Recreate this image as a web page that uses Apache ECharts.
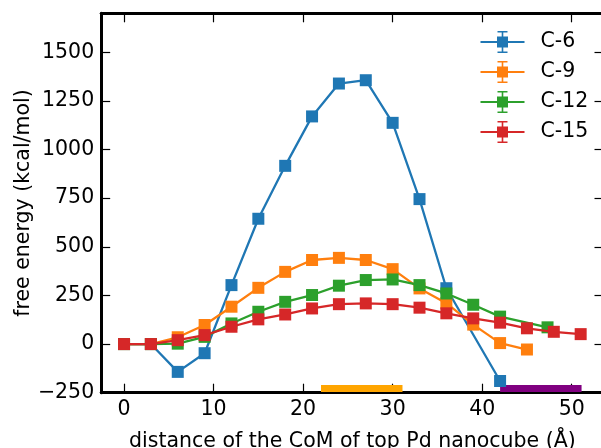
<!DOCTYPE html>
<html>
<head>
<meta charset="utf-8">
<script src="https://cdn.jsdelivr.net/npm/echarts@6/dist/echarts.min.js"></script>
<style>
html,body{margin:0;padding:0;background:#fff;}
#chart{width:601px;height:448px;}
</style>
</head>
<body>
<div id="chart"></div>
<script>
var seriesNames = ['C-6', 'C-9', 'C-12', 'C-15'];
var xC6  = [0, 3, 6, 9, 12, 15, 18, 21, 24, 27, 30, 33, 36, 42];
var yC6  = [0, 0, -143, -47, 303, 644, 916, 1170, 1339, 1356, 1137, 745, 287, -190];
var xC9  = [0, 3, 6, 9, 12, 15, 18, 21, 24, 27, 30, 33, 36, 39, 42, 45];
var yC9  = [0, 0, 35, 98, 192, 289, 371, 432, 443, 432, 385, 286, 210, 100, 5, -28];
var xC12 = [0, 3, 6, 9, 12, 15, 18, 21, 24, 27, 30, 33, 36, 39, 42, 47.3];
var yC12 = [0, 0, 2, 37, 106, 166, 217, 252, 300, 329, 332, 303, 260, 202, 141, 86];
var xC15 = [0, 3, 6, 9, 12, 15, 18, 21, 24, 27, 30, 33, 36, 39, 42, 45, 48, 51];
var yC15 = [0, 0, 20, 46, 89, 127, 152, 183, 205, 209, 205, 187, 158, 132, 110, 81, 63, 51];
var rangeOrange = [22, 31.1];
var rangePurple = [42, 51.1];
var rangeLevel = -229;

var colors = ['#1f77b4', '#ff7f0e', '#2ca02c', '#d62728'];
var xs = [xC6, xC9, xC12, xC15];
var ys = [yC6, yC9, yC12, yC15];

function pairs(x, y) { return x.map(function (v, i) { return [v, y[i]]; }); }

var FONT = 'DejaVu Sans';
var FS = 20.5;
var legendIcon = 'path://M0 10H44V12H0Z M16.5 5.5H27.5V16.5H16.5Z M21.2 0H22.8V22H21.2Z M17 0H27V1.6H17Z M17 20.4H27V22H17Z';

var series = seriesNames.map(function (n, i) {
  return {
    name: n, type: 'line', data: pairs(xs[i], ys[i]),
    symbol: 'rect', symbolSize: 12, showSymbol: true,
    lineStyle: { color: colors[i], width: 2.3 },
    itemStyle: { color: colors[i] },
    clip: true, z: 3 + i
  };
});
series.push({
  name: 'rangeA', type: 'line', data: [[rangeOrange[0], rangeLevel], [rangeOrange[1], rangeLevel]],
  symbol: 'none', lineStyle: { color: '#ffa500', width: 7, cap: 'butt' }, clip: true, z: 2, silent: true
});
series.push({
  name: 'rangeB', type: 'line', data: [[rangePurple[0], rangeLevel], [rangePurple[1], rangeLevel]],
  symbol: 'none', lineStyle: { color: '#800080', width: 7, cap: 'butt' }, clip: true, z: 2, silent: true
});

function fmt(v) { return String(v).replace('-', '\u2212'); }

var tickStyle = { show: true, inside: true, length: 9, lineStyle: { color: '#000', width: 1.2 } };
var lineStyle = { show: true, onZero: false, lineStyle: { color: '#000', width: 3 } };

var chart = echarts.init(document.getElementById('chart'), null, { renderer: 'canvas' });
chart.setOption({
  animation: false,
  backgroundColor: '#fff',
  textStyle: { fontFamily: FONT },
  grid: { left: 101.2, right: -2.5, top: 13.3, bottom: 55.3, containLabel: false, outerBoundsMode: 'none' },
  legend: {
    data: seriesNames.map(function (n, i) { return { name: n, icon: legendIcon, itemStyle: { color: colors[i] } }; }),
    orient: 'vertical', left: 480.5, top: 31, padding: 0,
    itemWidth: 44, itemHeight: 22, itemGap: 8,
    textStyle: { fontFamily: FONT, fontSize: FS, color: '#000', padding: [0, 0, 0, 11], lineHeight: 22 }
  },
  xAxis: [{
    type: 'value', position: 'bottom', min: -2.55, max: 53.55,
    axisLine: lineStyle, axisTick: tickStyle, splitLine: { show: false },
    axisLabel: { color: '#000', fontFamily: FONT, fontSize: FS, margin: 6, showMinLabel: false, showMaxLabel: false, formatter: fmt },
    name: 'distance of the CoM of top Pd nanocube (\u00c5)', nameLocation: 'middle', nameGap: 38, nameMoveOverlap: false,
    nameTextStyle: { color: '#000', fontFamily: FONT, fontSize: FS }
  }, {
    type: 'value', position: 'top', min: -2.55, max: 53.55,
    axisLine: lineStyle, axisTick: tickStyle, splitLine: { show: false }, axisLabel: { show: false }
  }],
  yAxis: [{
    type: 'value', position: 'left', min: -250, max: 1700, interval: 250,
    axisLine: lineStyle, axisTick: tickStyle, splitLine: { show: false },
    axisLabel: { color: '#000', fontFamily: FONT, fontSize: FS, margin: 7, showMaxLabel: false, formatter: fmt },
    name: 'free energy (kcal/mol)', nameLocation: 'middle', nameGap: 67, nameRotate: 90, nameMoveOverlap: false,
    nameTextStyle: { color: '#000', fontFamily: FONT, fontSize: FS }
  }, {
    type: 'value', position: 'right', min: -250, max: 1700, interval: 250,
    axisLine: lineStyle, axisTick: tickStyle, splitLine: { show: false }, axisLabel: { show: false }
  }],
  series: series
});
</script>
</body>
</html>
